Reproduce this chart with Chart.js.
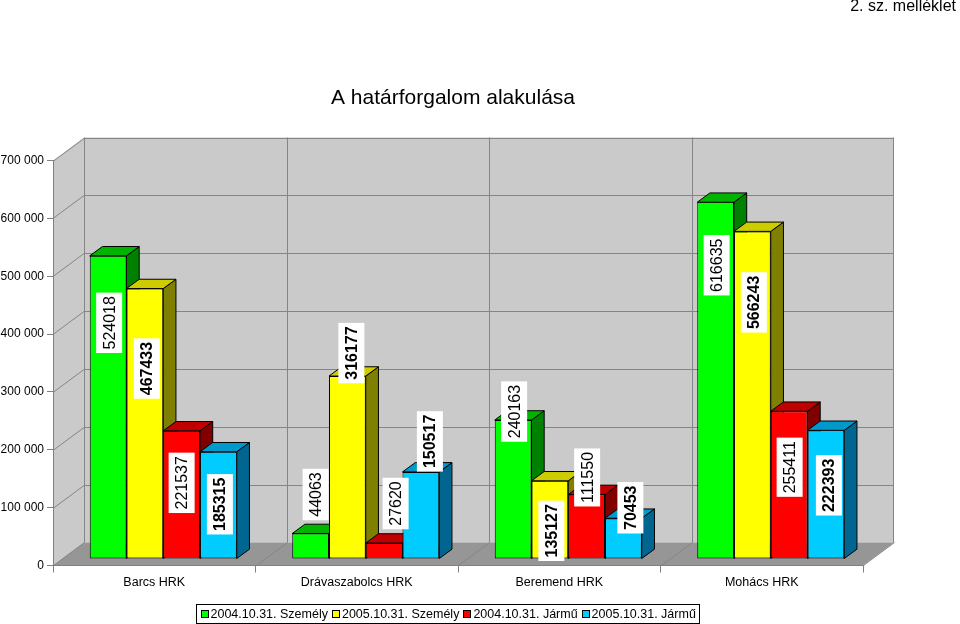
<!DOCTYPE html>
<html>
<head>
<meta charset="utf-8">
<script src="https://cdn.jsdelivr.net/npm/chart.js@4/dist/chart.umd.min.js"></script>
<style>
html,body{margin:0;padding:0;background:#fff;}
#wrap{width:960px;height:624px;position:relative;}
</style>
</head>
<body>
<div id="wrap"><canvas id="c" width="960" height="624"></canvas></div>
<script>
// ---------------- DATA ----------------
const categories = ['Barcs HRK', 'Drávaszabolcs HRK', 'Beremend HRK', 'Mohács HRK'];
const seriesNames = ['2004.10.31. Személy', '2005.10.31. Személy', '2004.10.31. Jármű', '2005.10.31. Jármű'];
const szemely2004 = [524018, 44063, 240163, 616635];
const szemely2005 = [467433, 316177, 135127, 566243];
const jarmu2004   = [221537, 27620, 111550, 255411];
const jarmu2005   = [185315, 150517, 70453, 222393];
const yTicks = [0, 100000, 200000, 300000, 400000, 500000, 600000, 700000];
const chartTitle = 'A határforgalom alakulása';
const headerNote = '2. sz. melléklet';

// ---------------- STYLE ----------------
const FONT = '"Liberation Sans", Arial, Helvetica, sans-serif';
const faces = [
  {front: '#00FF00', top: '#00B400', side: '#008000', bold: false},
  {front: '#FFFF00', top: '#CCCC00', side: '#808000', bold: true},
  {front: '#FF0000', top: '#C00000', side: '#800000', bold: false},
  {front: '#00CCFF', top: '#0099CC', side: '#006690', bold: true}
];
const WALL = '#CACACA', FLOOR = '#969696', GRID = '#858585';
const DEPTH = {x: 31, y: -23};        // front plane -> back wall
const BAR_SHIFT = {x: 9, y: -6.5};    // front plane -> bar front faces
const BAR_DEPTH = {x: 12.7, y: -9.3}; // bar thickness
// label placement nudges (px) relative to bar top centre, per series / category
const labelNudge = [
  [[1, 67], [5, -39], [1, -8.5], [1, 63]],
  [[2, 80], [4, -23], [1.5, 50], [1.5, 71]],
  [[0, 52], [11.5, -39.5], [0.5, -17], [0.5, 56]],
  [[1.5, 52.5], [9, -30.5], [7, -10.5], [3, 55]]
];

const seriesValues = [szemely2004, szemely2005, jarmu2004, jarmu2005];

function poly(ctx, pts, fill, stroke) {
  ctx.beginPath();
  ctx.moveTo(pts[0][0], pts[0][1]);
  for (let i = 1; i < pts.length; i++) ctx.lineTo(pts[i][0], pts[i][1]);
  ctx.closePath();
  if (fill) { ctx.fillStyle = fill; ctx.fill(); }
  if (stroke) { ctx.strokeStyle = stroke; ctx.lineWidth = 1; ctx.stroke(); }
}
function line(ctx, pts, color) {
  ctx.beginPath();
  ctx.moveTo(pts[0][0], pts[0][1]);
  for (let i = 1; i < pts.length; i++) ctx.lineTo(pts[i][0], pts[i][1]);
  ctx.strokeStyle = color; ctx.lineWidth = 1; ctx.stroke();
}

const scenePlugin = {
  id: 'scene3d',
  beforeDraw(chart) {
    const {ctx, chartArea: a, scales: {x, y}} = chart;
    ctx.save();
    // header and title
    ctx.fillStyle = '#000';
    ctx.textBaseline = 'middle';
    ctx.textAlign = 'right';
    ctx.font = '16px ' + FONT;
    ctx.fillText(headerNote, 956, 7);
    ctx.textAlign = 'center';
    ctx.font = '21px ' + FONT;
    ctx.fillText(chartTitle, 453, 98);

    const L = a.left, R = a.right, T = a.top, B = a.bottom;
    const dx = DEPTH.x, dy = DEPTH.y;
    // left wall
    poly(ctx, [[L, T], [L + dx, T + dy], [L + dx, B + dy], [L, B]], WALL, null);
    // back wall
    poly(ctx, [[L + dx, T + dy], [R + dx, T + dy], [R + dx, B + dy], [L + dx, B + dy]], WALL, null);
    // horizontal gridlines (left wall diagonal + back wall)
    y.ticks.forEach(t => {
      const py = Math.round(y.getPixelForValue(t.value)) + 0.5;
      if (t.value === yTicks[0]) return;
      line(ctx, [[L, py], [L + dx, py + dy], [R + dx, py + dy]], GRID);
    });
    // back wall outline
    line(ctx, [[L + dx + 0.5, T + dy], [L + dx + 0.5, B + dy]], GRID);
    line(ctx, [[R + dx - 0.5, T + dy], [R + dx - 0.5, B + dy]], GRID);
    // floor
    poly(ctx, [[L, B], [R, B], [R + dx, B + dy], [L + dx, B + dy]], FLOOR, null);
    // category boundaries on floor and back wall
    for (let i = 0; i <= categories.length; i++) {
      const bx = Math.round(x.getPixelForValue(i - 0.5)) + 0.5;
      if (i === 0 || i === categories.length) { line(ctx, [[bx, B], [bx + dx, B + dy]], GRID); continue; }
      line(ctx, [[bx, B], [bx + dx, B + dy], [bx + dx, T + dy]], GRID);
    }
    ctx.restore();
  },
  beforeDatasetsDraw(chart) {
    const ctx = chart.ctx;
    ctx.save();
    ctx.translate(BAR_SHIFT.x, BAR_SHIFT.y);
    const bd = BAR_DEPTH;
    chart.data.datasets.forEach((ds, di) => {
      const meta = chart.getDatasetMeta(di);
      const f = faces[di];
      meta.data.forEach((el) => {
        el.draw(ctx, chart.chartArea);
        const p = el.getProps(['x', 'y', 'base', 'width'], true);
        const l = p.x - p.width / 2, r = p.x + p.width / 2, top = p.y, base = p.base;
        poly(ctx, [[r, top], [r + bd.x, top + bd.y], [r + bd.x, base + bd.y], [r, base]], f.side, '#000');
        poly(ctx, [[l, top], [r, top], [r + bd.x, top + bd.y], [l + bd.x, top + bd.y]], f.top, '#000');
      });
    });
    // value labels
    chart.data.datasets.forEach((ds, di) => {
      const meta = chart.getDatasetMeta(di);
      const f = faces[di];
      meta.data.forEach((el, i) => {
        const p = el.getProps(['x', 'y'], true);
        const n = labelNudge[di][i];
        const txt = String(ds.data[i]);
        ctx.save();
        ctx.translate(p.x + n[0], p.y + n[1]);
        ctx.rotate(-Math.PI / 2);
        ctx.font = (f.bold ? 'bold ' : '') + '16px ' + FONT;
        const tw = ctx.measureText(txt).width;
        const w = tw + 7, h = 26;
        ctx.fillStyle = '#fff';
        ctx.fillRect(-w / 2, -h / 2, w, h);
        ctx.fillStyle = '#000';
        ctx.textAlign = 'center';
        ctx.textBaseline = 'middle';
        ctx.fillText(txt, 0, 1);
        ctx.restore();
      });
    });
    ctx.restore();
    return false;
  },
  afterDraw(chart) {
    // legend
    const ctx = chart.ctx;
    ctx.save();
    ctx.font = '12.5px ' + FONT;
    const sq = 8, gap = 2, itemGap = 4, margin = 4;
    const widths = chart.data.datasets.map(d => ctx.measureText(d.label).width);
    let total = margin * 2;
    widths.forEach((w, i) => { total += sq + gap + w + (i < widths.length - 1 ? itemGap : 0); });
    const cx = 448, top = 604.5, h = 19;
    const left = Math.round(cx - total / 2) + 0.5;
    ctx.fillStyle = '#fff';
    ctx.fillRect(left, top, total, h);
    ctx.strokeStyle = '#000';
    ctx.lineWidth = 1;
    ctx.strokeRect(left, top, Math.round(total), h);
    let xx = left + margin;
    const my = top + h / 2;
    chart.data.datasets.forEach((d, i) => {
      ctx.fillStyle = d.backgroundColor;
      ctx.fillRect(Math.round(xx), Math.round(my - sq / 2), sq, sq);
      ctx.strokeStyle = '#000';
      ctx.strokeRect(Math.round(xx) + 0.5, Math.round(my - sq / 2) + 0.5, sq - 1, sq - 1);
      xx += sq + gap;
      ctx.fillStyle = '#000';
      ctx.textAlign = 'left';
      ctx.textBaseline = 'middle';
      ctx.fillText(d.label, xx, my + 0.5);
      xx += widths[i] + itemGap;
    });
    ctx.restore();
  }
};

function fmtTick(v) {
  return String(v).replace(/\B(?=(\d{3})+(?!\d))/g, ' ');
}

new Chart(document.getElementById('c'), {
  type: 'bar',
  data: {
    labels: categories,
    datasets: seriesValues.map((vals, i) => ({
      label: seriesNames[i],
      data: vals,
      backgroundColor: faces[i].front,
      borderColor: '#000',
      borderWidth: 1,
      borderSkipped: false,
      categoryPercentage: 0.726,
      barPercentage: 1.0
    }))
  },
  options: {
    responsive: false,
    devicePixelRatio: 1,
    animation: false,
    events: [],
    layout: {padding: {top: 160.5, left: 0, right: 97, bottom: 0}},
    plugins: {legend: {display: false}, tooltip: {enabled: false}, title: {display: false}},
    scales: {
      x: {
        offset: true,
        grid: {offset: true, drawOnChartArea: false, drawTicks: true, tickLength: 7, color: '#808080'},
        border: {color: '#808080'},
        ticks: {color: '#000', font: {family: FONT, size: 12.5}, padding: 3, maxRotation: 0},
        afterFit(s) { s.height = 58.5; }
      },
      y: {
        min: yTicks[0],
        max: yTicks[yTicks.length - 1],
        grid: {drawOnChartArea: false, drawTicks: true, tickLength: 6, color: '#808080'},
        border: {color: '#808080'},
        ticks: {
          stepSize: yTicks[1] - yTicks[0],
          color: '#000',
          font: {family: FONT, size: 12},
          padding: 3,
          callback: (v) => fmtTick(v)
        },
        afterFit(s) { s.width = 53; }
      }
    }
  },
  plugins: [scenePlugin]
});
</script>
</body>
</html>
